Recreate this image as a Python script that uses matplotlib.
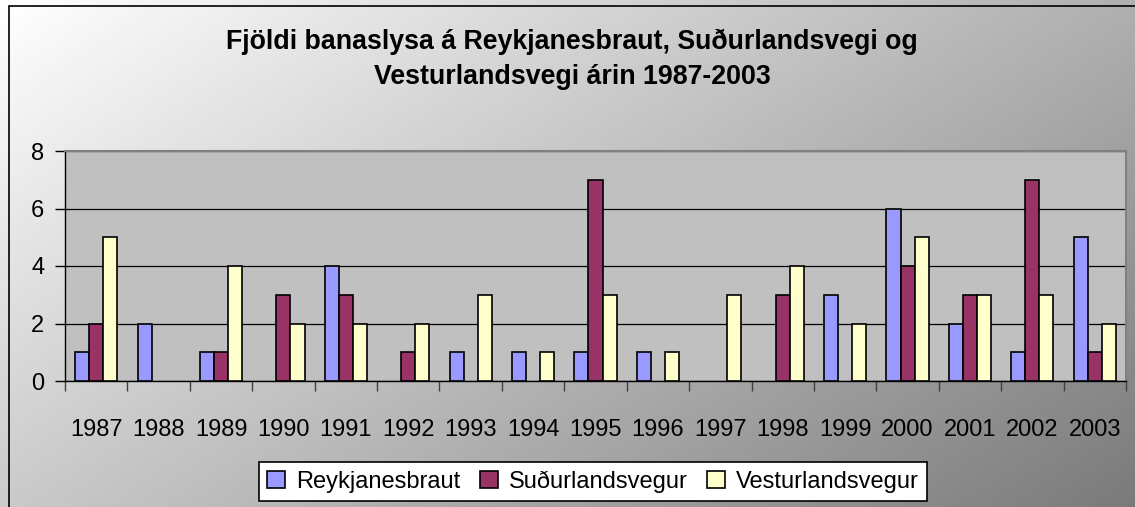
import numpy as np
import matplotlib
matplotlib.use("Agg")
from matplotlib import pyplot as plt
from matplotlib.patches import Rectangle

plt.rcParams['font.family'] = ['Liberation Sans', 'DejaVu Sans']

years = ['1987', '1988', '1989', '1990', '1991', '1992', '1993', '1994', '1995',
         '1996', '1997', '1998', '1999', '2000', '2001', '2002', '2003']
reykjanesbraut = [1, 2, 1, 0, 4, 0, 1, 1, 1, 1, 0, 0, 3, 6, 2, 1, 5]
sudurlandsvegur = [2, 0, 1, 3, 3, 1, 0, 0, 7, 0, 0, 3, 0, 4, 3, 7, 1]
vesturlandsvegur = [5, 0, 4, 2, 2, 2, 3, 1, 3, 1, 3, 4, 2, 5, 3, 3, 2]
series_names = ['Reykjanesbraut', 'Suðurlandsvegur', 'Vesturlandsvegur']
colors = ['#9999FF', '#993366', '#FFFFCC']

fig = plt.figure(figsize=(11.35, 5.07), dpi=100)

# gradient background (white top-left -> gray bottom-right)
bg = fig.add_axes([0, 0, 1, 1], zorder=-10)
xx, yy = np.meshgrid(np.linspace(0, 1, 400), np.linspace(0, 1, 200))
grad = 1.0 - 0.52 * (xx * 0.6 + yy * 0.4)
bg.imshow(grad, cmap='gray', vmin=0, vmax=1, extent=[0, 1, 0, 1],
          aspect='auto', origin='upper', interpolation='bilinear')
bg.set_axis_off()
# chart border
fig.patches.append(Rectangle((9 / 1135, -0.1), 1.2, 1 - 6 / 507 + 0.1,
                             transform=fig.transFigure, fill=False,
                             edgecolor='black', linewidth=1.2))

ax = fig.add_axes([65 / 1135, 1 - 381 / 507, (1126 - 65) / 1135, (381 - 151) / 507])
ax.set_facecolor('#C0C0C0')

x = np.arange(len(years))
w = 0.225
for i, (vals, name, c) in enumerate(zip([reykjanesbraut, sudurlandsvegur, vesturlandsvegur],
                                        series_names, colors)):
    vals = np.array(vals)
    # zero-height bars get no outline (Excel draws nothing there)
    lw = np.where(vals > 0, 1.2, 0)
    ax.bar(x + (i - 1) * w, vals, width=w, color=c, edgecolor='black',
           linewidth=lw, label=name, zorder=3)

ax.set_xlim(-0.5, len(years) - 0.5)
ax.set_ylim(0, 8)
ax.set_yticks([0, 2, 4, 6, 8])
ax.yaxis.grid(True, color='black', linewidth=0.9, zorder=1)
ax.set_axisbelow(True)

ax.set_xticks(x)
ax.set_xticklabels(years, fontsize=17)
ax.set_xticks(np.arange(-0.5, len(years)), minor=True)
ax.tick_params(axis='x', which='major', length=0, pad=27)
ax.tick_params(axis='x', which='minor', length=7, width=1, color='#404040', direction='out')
ax.tick_params(axis='y', labelsize=17, length=7, width=1, pad=8, direction='out')

for s in ['top', 'right']:
    ax.spines[s].set_color('#808080')
    ax.spines[s].set_linewidth(1.5)
for s in ['left', 'bottom']:
    ax.spines[s].set_color('black')
    ax.spines[s].set_linewidth(1)

fig.text(0.504, 0.882, 'Fjöldi banaslysa á Reykjanesbraut, Suðurlandsvegi og\nVesturlandsvegi árin 1987-2003',
         ha='center', va='center', fontsize=19.3, fontweight='bold', linespacing=1.45)

leg = fig.legend(loc='center', bbox_to_anchor=(593 / 1135, 1 - 481.5 / 507), ncol=3,
                 fontsize=17, frameon=True, fancybox=False, edgecolor='black',
                 handlelength=0.75, handleheight=0.75, handletextpad=0.45,
                 columnspacing=0.85, borderpad=0.35)
leg.get_frame().set_linewidth(1.2)
leg.get_frame().set_facecolor('white')
leg.get_frame().set_alpha(1)

fig.savefig('out.png', dpi=100)
